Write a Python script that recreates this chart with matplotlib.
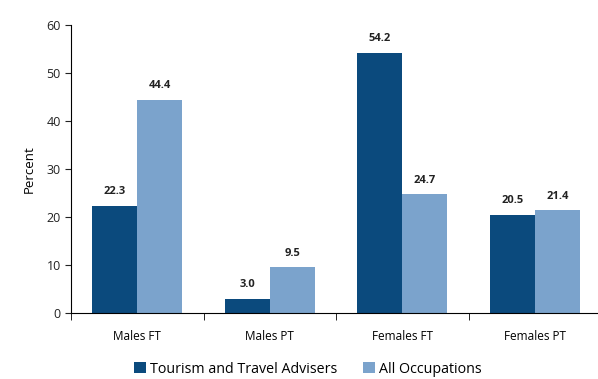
import numpy as np
import matplotlib
matplotlib.use("Agg")
import matplotlib.pyplot as plt

# data
categories = ["Males FT", "Males PT", "Females FT", "Females PT"]
tourism = [22.3, 3.0, 54.2, 20.5]
all_occ = [44.4, 9.5, 24.7, 21.4]
series_names = ["Tourism and Travel Advisers", "All Occupations"]

dark = "#0B4A7D"
light = "#7BA3CC"

plt.rcParams["font.family"] = "Open Sans"

fig = plt.figure(figsize=(5.98, 3.79), dpi=100)
ax = fig.add_axes([0.119, 0.174, 0.886, 0.76])

x = np.arange(len(categories))
w = 0.34
b1 = ax.bar(x - w / 2, tourism, w, color=dark, label=series_names[0])
b2 = ax.bar(x + w / 2, all_occ, w, color=light, label=series_names[1])

for bars, vals in [(b1, tourism), (b2, all_occ)]:
    for r, v in zip(bars, vals):
        ax.text(r.get_x() + r.get_width() / 2, v + 1.8, f"{v:.1f}",
                ha="center", va="bottom", fontsize=8, fontweight="bold",
                color="#222222")

ax.set_ylim(0, 60)
ax.set_yticks(range(0, 61, 10))
ax.set_xlim(-0.5, 3.5)
ax.set_xticks(x)
ax.set_xticklabels(categories)
ax.set_xticks([-0.5, 0.5, 1.5, 2.5], minor=True)
ax.tick_params(axis="x", which="major", length=0, pad=12, labelsize=8.5)
ax.tick_params(axis="x", which="minor", length=5, direction="out")
ax.tick_params(axis="y", length=4, labelsize=9, colors="#222222")
ax.set_ylabel("Percent", fontsize=9.5, labelpad=8)

for s in ["top", "right"]:
    ax.spines[s].set_visible(False)

fig.legend(loc="lower center", bbox_to_anchor=(0.515, -0.028), ncol=2,
           frameon=False, fontsize=10.3, handlelength=0.8, handleheight=0.8,
           handletextpad=0.3, columnspacing=1.8)

fig.savefig("out.png", dpi=100)
